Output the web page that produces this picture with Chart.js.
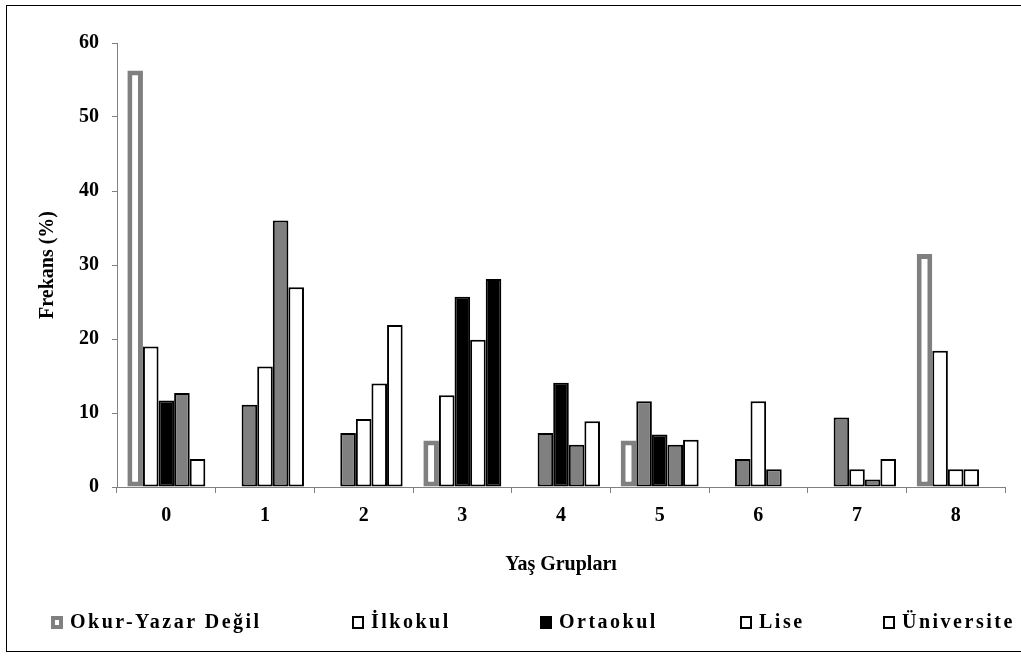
<!DOCTYPE html>
<html>
<head>
<meta charset="utf-8">
<script src="https://cdn.jsdelivr.net/npm/chart.js@4"></script>
<style>
    html, body { margin: 0; padding: 0; background: #fff; overflow: hidden; }
    #wrap { position: relative; width: 1021px; height: 656px; overflow: hidden; }
    #frame { position: absolute; left: 6px; top: 5px; width: 1030px; height: 645px; border: 1px solid #000; }
    #barChart { position: absolute; left: 0; top: 0; }
    .leg { position: absolute; top: 610px; font-family: 'Liberation Serif', serif; font-weight: bold; font-size: 20px; letter-spacing: 2.5px; white-space: nowrap; }
    .leg i { display: inline-block; width: 12px; height: 13px; box-sizing: border-box; margin-right: 7px; vertical-align: -1px; }
</style>
</head>
<body>
<div id="wrap">
    <div id="frame"></div>
    <canvas id="barChart" width="1021" height="656"></canvas>
    <div id="legend"></div>
</div>
<script>
const categories = ['0', '1', '2', '3', '4', '5', '6', '7', '8'];
const seriesNames = ['Okur-Yazar Değil', 'İlkokul', 'Ortaokul', 'Lise', 'Üniversite'];

const okurYazarDegil = [56.3, null, null, 6.3, null, 6.3, null, null, 31.5];
const ilkokul = [19.0, 11.1, 7.3, 12.4, 7.3, 11.6, 3.8, 9.4, 18.4];
const ortaokul = [11.7, 16.3, 9.2, 25.7, 14.1, 7.1, 11.6, 2.4, 2.4];
const lise = [12.7, 36.0, 14.0, 19.9, 5.7, 5.7, 2.4, 1.0, 2.4];
const universite = [3.8, 27.0, 21.9, 28.1, 8.9, 6.4, null, 3.8, null];

const yTicks = [0, 10, 20, 30, 40, 50, 60];

// bar look per slot: o = gray outline, w = white, b = black, g = gray
const kinds = [
    'ooooooooo',
    'wggwggggw',
    'bwwbbbwww',
    'ggwwggggw',
    'wwwbwwwww'
];
const legendKinds = ['o', 'w', 'b', 'w', 'w'];
const legendX = [51, 352, 540, 740, 883];

const GRAY = '#808080';
const fills = { o: '#ffffff', w: '#ffffff', b: '#000000', g: GRAY };
const borders = { o: GRAY, w: '#000000', b: '#000000', g: '#000000' };
const widths = { o: 5, w: 2, b: 2, g: 2 };

const allSeries = [okurYazarDegil, ilkokul, ortaokul, lise, universite];

const datasets = allSeries.map((values, i) => {
    const k = kinds[i].split('');
    return {
        label: seriesNames[i],
        data: values,
        backgroundColor: k.map(c => fills[c]),
        borderColor: k.map(c => borders[c]),
        borderWidth: k.map(c => widths[c]),
        borderSkipped: false,
        categoryPercentage: 0.79,
        barPercentage: 1.0
    };
});

const font = { family: 'Liberation Serif', weight: 'bold', size: 20 };

const ctx = document.getElementById('barChart').getContext('2d');
new Chart(ctx, {
    type: 'bar',
    data: { labels: categories, datasets: datasets },
    options: {
        responsive: false,
        animation: false,
        layout: { padding: { left: 0, top: 43, right: 16, bottom: 79 } },
        scales: {
            x: {
                grid: {
                    display: true,
                    drawOnChartArea: false,
                    drawTicks: true,
                    tickLength: 6,
                    color: GRAY,
                    offset: true
                },
                border: { display: true, color: GRAY, width: 1 },
                ticks: { color: '#000', font: font, padding: 11 },
                title: {
                    display: true,
                    text: 'Yaş Grupları',
                    color: '#000',
                    font: font,
                    padding: { top: 12, bottom: 0 }
                },
                afterFit: function(scale) { scale.height = 90; }
            },
            y: {
                min: 0,
                max: 60,
                afterBuildTicks: function(scale) { scale.ticks = yTicks.map(v => ({ value: v })); },
                grid: {
                    display: true,
                    drawOnChartArea: false,
                    drawTicks: true,
                    tickLength: 5,
                    color: GRAY
                },
                border: { display: true, color: GRAY, width: 1 },
                ticks: { color: '#000', font: font, padding: 13 },
                title: {
                    display: true,
                    text: 'Frekans (%)',
                    color: '#000',
                    font: font,
                    padding: { top: 36, bottom: 0 }
                },
                afterFit: function(scale) { scale.width = 117; }
            }
        },
        plugins: {
            legend: { display: false },
            tooltip: { enabled: false }
        }
    }
});

// legend drawn as html text below the chart
const legendEl = document.getElementById('legend');
seriesNames.forEach((name, i) => {
    const k = legendKinds[i];
    const item = document.createElement('div');
    item.className = 'leg';
    item.style.left = legendX[i] + 'px';
    const box = document.createElement('i');
    box.style.background = fills[k];
    box.style.border = (k === 'o' ? 4 : 2) + 'px solid ' + borders[k];
    item.appendChild(box);
    item.appendChild(document.createTextNode(name));
    legendEl.appendChild(item);
});
</script>
</body>
</html>
